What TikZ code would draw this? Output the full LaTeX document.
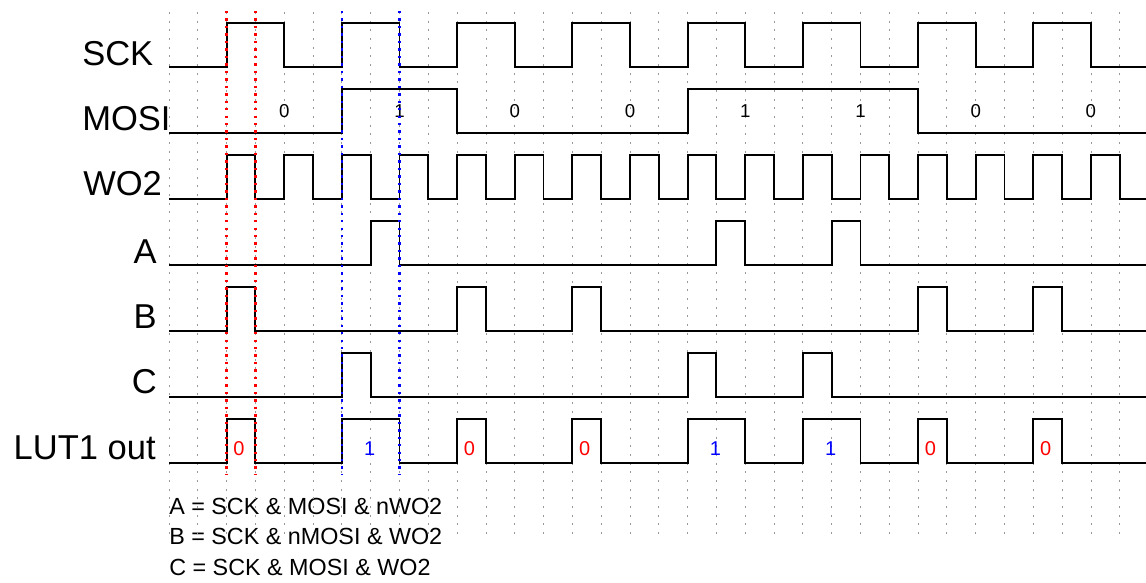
\documentclass[tikz,border=0pt]{standalone}
\usepackage{fontspec}
\setmainfont{Liberation Sans}
\begin{document}
\begin{tikzpicture}[x=0.75pt,y=-0.75pt,
  sig/.style={line width=1.4pt, black, line join=miter},
  gridline/.style={black!40, line width=0.6pt, dash pattern=on 1.5pt off 5pt},
  redmark/.style={red, line width=1.8pt, dash pattern=on 1.8pt off 3.8pt},
  bluemark/.style={blue, line width=1.8pt, dash pattern=on 1.8pt off 3.8pt},
  lbl/.style={font=\fontsize{25.9}{30}\selectfont, inner sep=0pt},
  eqn/.style={font=\fontsize{17.5}{21}\selectfont, inner sep=0pt, anchor=base west},
  bit/.style={font=\fontsize{14}{16}\selectfont, inner sep=0pt},
  zerobit/.style={font=\fontsize{15}{17}\selectfont, inner sep=0pt, red},
  onebit/.style={font=\fontsize{15}{17}\selectfont, inner sep=0pt, blue}]
\useasboundingbox (0,0) rectangle (1146,582);

% signal names
\node[lbl, anchor=base west] (lsck)  at (82,65)  {SCK};
\node[lbl, anchor=base west] (lmosi) at (82,130) {MOSI};
\node[lbl, anchor=base west] (lwo2)  at (83,195) {WO2};
\node[lbl, anchor=base east] (la)    at (157,263) {A};
\node[lbl, anchor=base east] (lb)    at (157,328) {B};
\node[lbl, anchor=base east] (lc)    at (157,393) {C};
\node[lbl, anchor=base east] (llut)  at (156,459) {LUT1 out};

% equations
\node[eqn] (eqa) at (169,514) {A = SCK \& MOSI \& nWO2};
\node[eqn] (eqb) at (169,544) {B = SCK \& nMOSI \& WO2};
\node[eqn] (eqc) at (169,575) {C = SCK \& MOSI \& WO2};

\begin{scope}[xshift=126.75pt, x=21.6075pt]
  % grid
  \foreach \k in {0,...,33} \draw[gridline] (\k,12) -- (\k,536);

  % SCK
  \draw[sig] (0,67) -| (2,23) -| (4,67) -| (6,23) -| (8,67) -| (10,23) -| (12,67)
    -| (14,23) -| (16,67) -| (18,23) -| (20,67) -| (22,23) -| (24,67) -| (26,23)
    -| (28,67) -| (30,23) -| (32,67) -- (33.92,67);
  % MOSI
  \draw[sig] (0,133) -| (6,89) -| (10,133) -| (18,89) -| (26,133) -- (33.92,133);
  % WO2
  \draw[sig] (0,199) foreach \k in {2,4,...,32} { -| (\k,155) -| ({\k+1},199) } -- (33.92,199);
  % A
  \draw[sig] (0,265) -| (7,221) -| (8,265) -| (19,221) -| (20,265) -| (23,221) -| (24,265) -- (33.92,265);
  % B
  \draw[sig] (0,331) -| (2,287) -| (3,331) -| (10,287) -| (11,331) -| (14,287) -| (15,331)
    -| (26,287) -| (27,331) -| (30,287) -| (31,331) -- (33.92,331);
  % C
  \draw[sig] (0,397) -| (6,353) -| (7,397) -| (18,353) -| (19,397) -| (22,353) -| (23,397) -- (33.92,397);
  % LUT1 out
  \draw[sig] (0,463) -| (2,419) -| (3,463) -| (6,419) -| (8,463) -| (10,419) -| (11,463)
    -| (14,419) -| (15,463) -| (18,419) -| (20,463) -| (22,419) -| (24,463)
    -| (26,419) -| (27,463) -| (30,419) -| (31,463) -- (33.92,463);

  % MOSI bit values
  \node[bit] (mb1) at (4,110.7)  {0};
  \node[bit] (mb2) at (8,110.7)  {1};
  \node[bit] (mb3) at (12,110.7) {0};
  \node[bit] (mb4) at (16,110.7) {0};
  \node[bit] (mb5) at (20,110.7) {1};
  \node[bit] (mb6) at (24,110.7) {1};
  \node[bit] (mb7) at (28,110.7) {0};
  \node[bit] (mb8) at (32,110.7) {0};

  % LUT1 out bit values
  \node[zerobit] (ob1) at (2.43,449)  {0};
  \node[onebit]  (ob2) at (6.97,449)  {1};
  \node[zerobit] (ob3) at (10.43,449) {0};
  \node[zerobit] (ob4) at (14.43,449) {0};
  \node[onebit]  (ob5) at (18.97,449) {1};
  \node[onebit]  (ob6) at (22.97,449) {1};
  \node[zerobit] (ob7) at (26.43,449) {0};
  \node[zerobit] (ob8) at (30.43,449) {0};

  % markers
  \draw[redmark]  (2,11) -- (2,475);
  \draw[redmark]  (3,11) -- (3,475);
  \draw[bluemark] (6,11) -- (6,475);
  \draw[bluemark] (8,11) -- (8,475);
\end{scope}
\end{tikzpicture}
\end{document}
